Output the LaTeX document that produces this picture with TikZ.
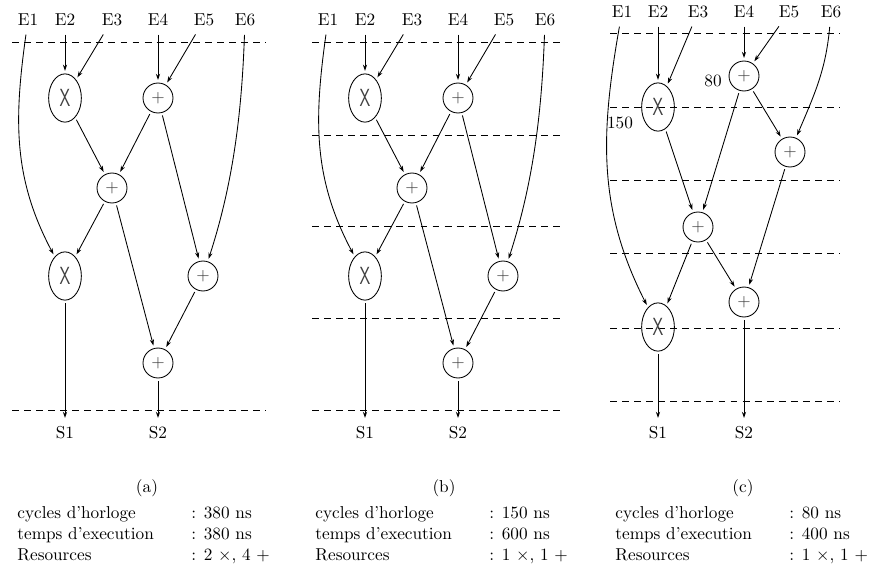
\documentclass[tikz,border=0pt]{standalone}
\usepackage{tikz}
\usetikzlibrary{shapes.geometric,arrows.meta}
\tikzset{%
    mul/.style={draw, ellipse, minimum width=19pt, minimum height=28pt, inner sep=0pt, text=black!75},
    add/.style={draw, circle, minimum size=17.4pt, inner sep=0pt, text=black!75},
    flow/.style={->, shorten >=1.5pt, shorten <=1.5pt},
    clock/.style={dash pattern=on 4pt off 3pt}
}
\newcommand{\mulsym}{\scalebox{0.67}[1]{\Large\sffamily X}}
\newcommand{\addsym}{\textsf{+}}

\begin{document}
\begin{tikzpicture}[x=0.0204cm, y=-0.0204cm, >={Stealth[length=3.6pt,width=2.4pt]}, line width=0.5pt]
    \useasboundingbox (0,0) rectangle (873,574);
    % (a) and (b): same graph, only the cuts differ
    \foreach \p/\dx in {a/0,b/300}{
    \begin{scope}[shift={(\dx,0)}]
        \node (E1\p) at (28,20) {E1};
        \node (E2\p) at (65,20) {E2};
        \node (E3\p) at (112,20) {E3};
        \node (E4\p) at (158,20) {E4};
        \node (E5\p) at (204,20) {E5};
        \node (E6\p) at (245,20) {E6};
        \node[mul] (m1\p) at (65,98) {\mulsym};
        \node[add] (p1\p) at (158,98) {\addsym};
        \node[add] (p2\p) at (112,188) {\addsym};
        \node[mul] (m2\p) at (65,276) {\mulsym};
        \node[add] (p3\p) at (203,276) {\addsym};
        \node[add] (p4\p) at (158,363) {\addsym};
        \node (S1\p) at (65,433) {S1};
        \node (S2\p) at (158,433) {S2};
        \draw[flow] (E2\p) -- (m1\p);
        \draw[flow] (E3\p) -- (m1\p);
        \draw[flow] (E4\p) -- (p1\p);
        \draw[flow] (E5\p) -- (p1\p);
        \draw[flow] (m1\p) -- (p2\p);
        \draw[flow] (p1\p) -- (p2\p);
        \draw[flow] (p1\p) -- (p3\p);
        \draw[flow] (p2\p) -- (m2\p);
        \draw[flow] (p2\p) -- (p4\p);
        \draw[flow] (p3\p) -- (p4\p);
        \draw[flow] (E1\p) to[out=-98,in=118] (m2\p);
        \draw[flow] (E6\p) to[out=-92,in=72,looseness=0.9] (p3\p);
        \draw[flow] (m2\p) -- (S1\p);
        \draw[flow] (p4\p) -- (S2\p);
    \end{scope}
    }
    % clock cuts
    \foreach \y in {42,410}
        \draw[clock] (12,\y) -- (266,\y);
    \foreach \y in {42,135,226,318,410}
        \draw[clock] (312,\y) -- (565,\y);
    \foreach \y in {33,107,180,253,328,401}
        \draw[clock] (610,\y) -- (840,\y);
    % (c)
    \node (E1c) at (622,12) {E1};
    \node (E2c) at (658,12) {E2};
    \node (E3c) at (698,12) {E3};
    \node (E4c) at (744,12) {E4};
    \node (E5c) at (789,12) {E5};
    \node (E6c) at (831,12) {E6};
    \node[mul] (m1c) at (658,107) {\mulsym};
    \node[add] (p1c) at (744,76) {\addsym};
    \node[add] (p2c) at (790,152) {\addsym};
    \node[add] (p3c) at (698,227) {\addsym};
    \node[add] (p4c) at (744,302) {\addsym};
    \node[mul] (m2c) at (658,327) {\mulsym};
    \node (S1c) at (658,433) {S1};
    \node (S2c) at (744,433) {S2};
    \node (t80) at (713,81) {80};
    \node (t150) at (620,123) {150};
    \draw[flow] (E2c) -- (m1c);
    \draw[flow] (E3c) -- (m1c);
    \draw[flow] (E4c) -- (p1c);
    \draw[flow] (E5c) -- (p1c);
    \draw[flow] (p1c) -- (p2c);
    \draw[flow] (m1c) -- (p3c);
    \draw[flow] (p1c) -- (p3c);
    \draw[flow] (p3c) -- (m2c);
    \draw[flow] (p3c) -- (p4c);
    \draw[flow] (p2c) -- (p4c);
    \draw[flow] (E1c) to[out=-100,in=117] (m2c);
    \draw[flow] (E6c) to[out=-95,in=67] (p2c);
    \draw[flow] (m2c) -- (S1c);
    \draw[flow] (p4c) -- (S2c);
    % timings under each graph
    \foreach \p/\cx/\tx/\clk/\tex/\nm/\na in {a/147/17/380/380/2/4,b/444/315/150/600/1/1,c/743/615/80/400/1/1}{
        \node (cap\p) at (\cx,488) {(\p)};
        \node[anchor=north west, inner sep=0pt] (tab\p) at (\tx,504) {%
            \begin{tabular}{@{}p{101pt}@{}l@{}}
                cycles d'horloge & : \clk\ ns\\
                temps d'execution & : \tex\ ns\\
                Resources & : \nm\ $\times$, \na\ $+$
            \end{tabular}};
    }
\end{tikzpicture}
\end{document}
